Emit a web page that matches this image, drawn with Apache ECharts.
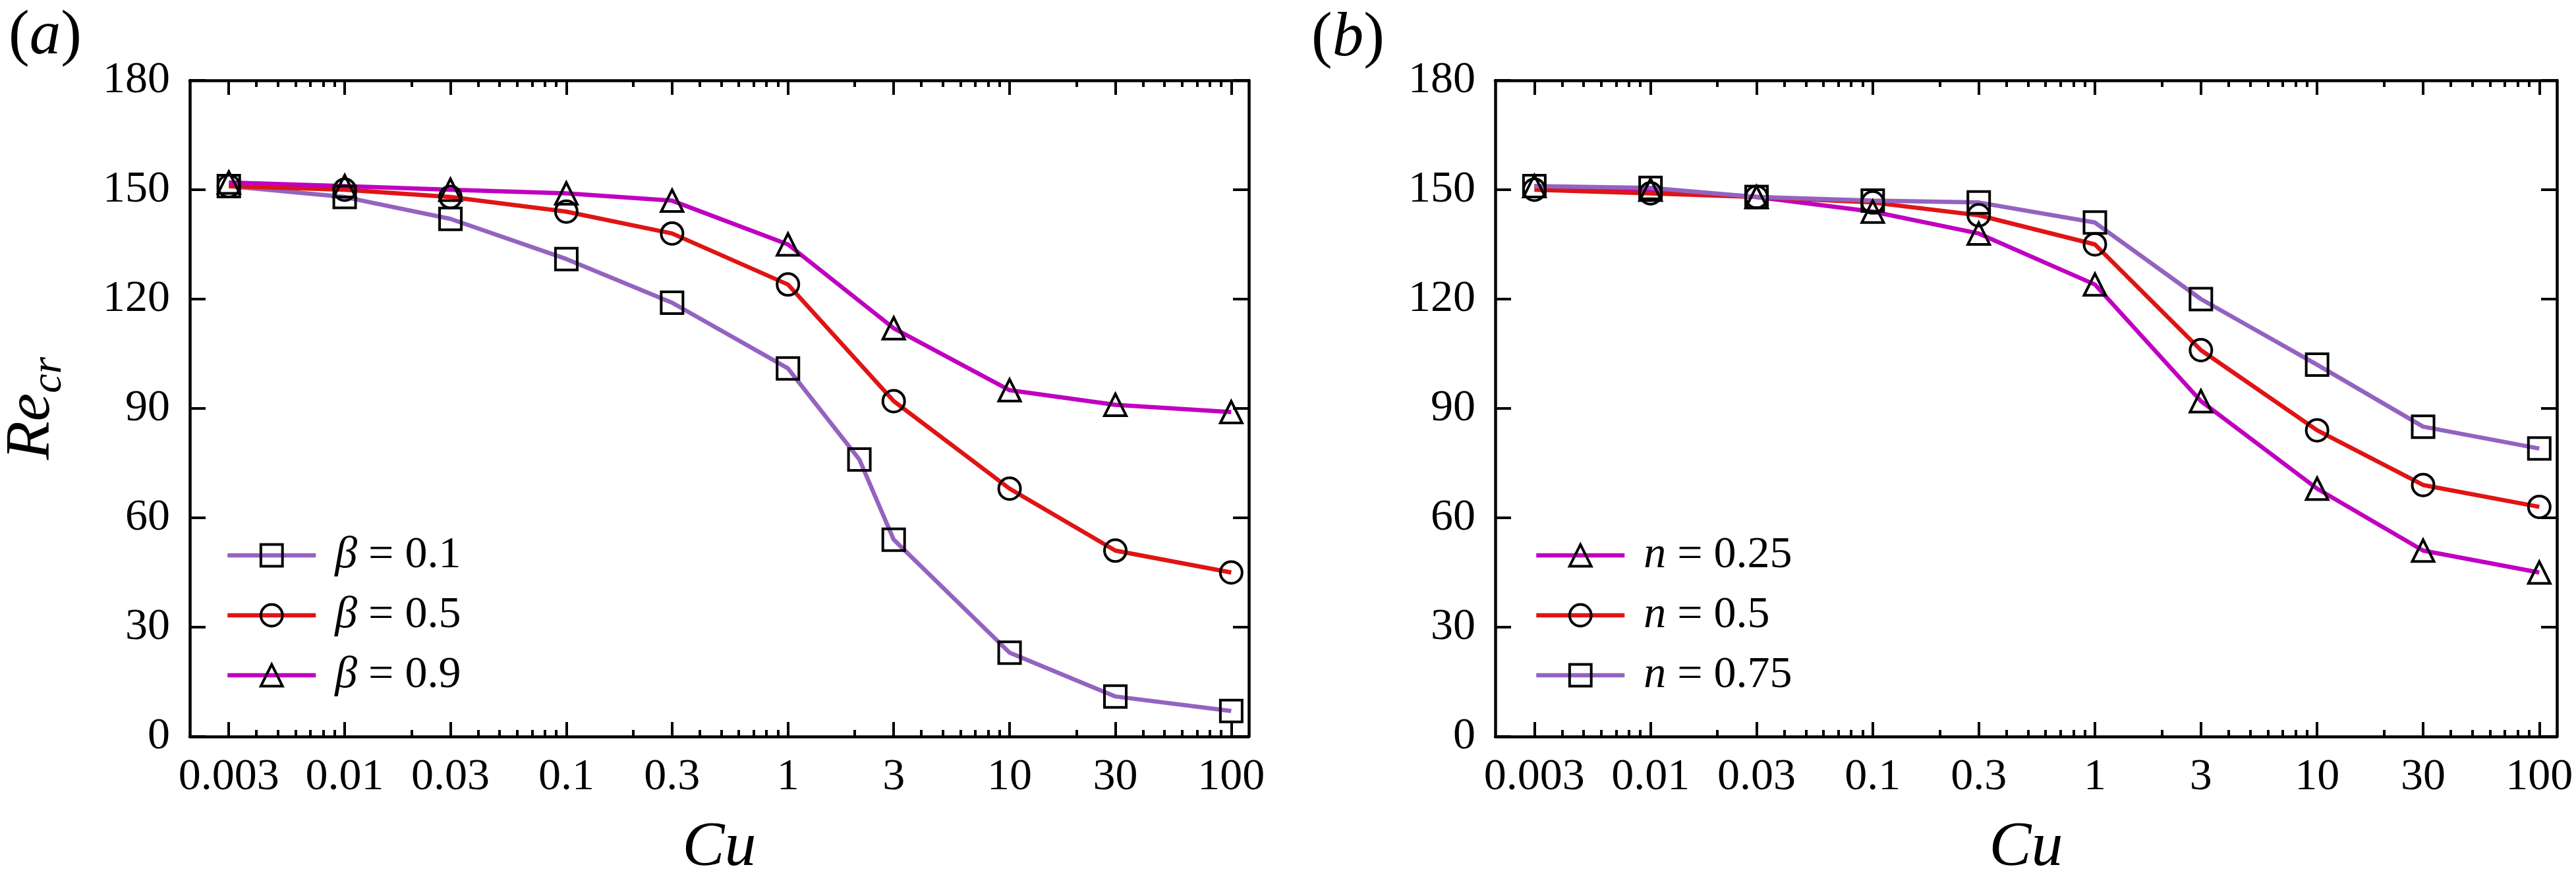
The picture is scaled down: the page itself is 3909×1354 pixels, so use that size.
<!DOCTYPE html>
<html>
<head>
<meta charset="utf-8">
<script src="https://cdn.jsdelivr.net/npm/echarts@6/dist/echarts.min.js"></script>
<style>
  html, body { margin: 0; padding: 0; background: #fff; }
  #main { width: 3909px; height: 1354px; }
</style>
</head>
<body>
<div id="main"></div>
<script>
// Cu 取值
const cu = [0.003, 0.01, 0.03, 0.1, 0.3, 1, 3, 10, 30, 100];
const cuBeta01 = [0.003, 0.01, 0.03, 0.1, 0.3, 1, 2.1, 3, 10, 30, 100];

// (a) 不同 beta
const reBeta01 = [151, 148, 142, 131, 119, 101, 76, 54, 23, 11, 7];
const reBeta05 = [151, 150, 148, 144, 138, 124, 92, 68, 51, 45];
const reBeta09 = [152, 151, 150, 149, 147, 135, 112, 95, 91, 89];

// (b) 不同 n
const reN025 = [151, 150, 148, 144, 138, 124, 92, 68, 51, 45];
const reN05 = [150, 149, 148, 146.5, 143, 135, 106, 84, 69, 63];
const reN075 = [151, 150.5, 148, 147, 146.5, 141, 120, 102, 85, 79];

// 坐标刻度
const majorTicks = [0.003, 0.01, 0.03, 0.1, 0.3, 1, 3, 10, 30, 100];
const minorTicks = [
  0.004, 0.005, 0.006, 0.007, 0.008, 0.009, 0.02,
  0.04, 0.05, 0.06, 0.07, 0.08, 0.09, 0.2,
  0.4, 0.5, 0.6, 0.7, 0.8, 0.9, 2,
  4, 5, 6, 7, 8, 9, 20,
  40, 50, 60, 70, 80, 90
];
const yMin = 0, yMax = 180, yStep = 30;

const FONT = "'Liberation Serif', 'Times New Roman', serif";
const PURPLE = '#9463c0';
const RED = '#e01414';
const MAGENTA = '#c000c0';

const chart = echarts.init(document.getElementById('main'));

function line(name, xs, ys, color, symbol, gi) {
  return {
    name: name,
    type: 'line',
    xAxisIndex: gi * 4,
    yAxisIndex: gi * 2,
    data: xs.map((x, i) => [x, ys[i]]),
    symbol: symbol,
    symbolSize: 33,
    showSymbol: true,
    lineStyle: { color: color, width: 6.5 },
    itemStyle: { color: 'rgba(0,0,0,0)', borderColor: '#000', borderWidth: 4 },
    emphasis: { disabled: true },
    z: 3
  };
}

// 一个面板 4 根 x 轴：下主/下次/上主/上次
function xAxes(gi) {
  const base = {
    type: 'log',
    logBase: 10,
    gridIndex: gi,
    min: 0.002,
    max: 120,
    splitLine: { show: false },
    minorTick: { show: false }
  };
  return [
    Object.assign({}, base, {
      position: 'bottom',
      axisLine: { show: true, lineStyle: { color: '#000', width: 4.5 } },
      axisTick: { show: true, inside: true, length: 22, lineStyle: { color: '#000', width: 4 }, customValues: majorTicks },
      axisLabel: {
        show: true, customValues: majorTicks, margin: 28,
        color: '#000', fontFamily: FONT, fontSize: 68,
        formatter: v => String(v)
      },
      name: 'Cu',
      nameLocation: 'middle',
      nameGap: 122,
      nameTextStyle: { color: '#000', fontFamily: FONT, fontStyle: 'italic', fontSize: 96 }
    }),
    Object.assign({}, base, {
      position: 'bottom',
      axisLine: { show: false },
      axisTick: { show: true, inside: true, length: 10, lineStyle: { color: '#000', width: 4 }, customValues: minorTicks },
      axisLabel: { show: false }
    }),
    Object.assign({}, base, {
      position: 'top',
      axisLine: { show: true, lineStyle: { color: '#000', width: 4.5 } },
      axisTick: { show: true, inside: true, length: 22, lineStyle: { color: '#000', width: 4 }, customValues: majorTicks },
      axisLabel: { show: false }
    }),
    Object.assign({}, base, {
      position: 'top',
      axisLine: { show: false },
      axisTick: { show: true, inside: true, length: 10, lineStyle: { color: '#000', width: 4 }, customValues: minorTicks },
      axisLabel: { show: false }
    })
  ];
}

function yAxes(gi, withName) {
  return [
    {
      type: 'value',
      gridIndex: gi,
      position: 'left',
      min: yMin, max: yMax, interval: yStep,
      splitLine: { show: false },
      axisLine: { show: true, lineStyle: { color: '#000', width: 4.5 } },
      axisTick: { show: true, inside: true, length: 24, lineStyle: { color: '#000', width: 4 } },
      axisLabel: { color: '#000', fontFamily: FONT, fontSize: 68, margin: 30 },
      name: withName ? '{r|Re}{s|cr}' : '',
      nameLocation: 'middle',
      nameGap: 180,
      nameTextStyle: {
        color: '#000', fontFamily: FONT,
        rich: {
          r: { fontFamily: FONT, fontStyle: 'italic', fontSize: 96, lineHeight: 118, color: '#000' },
          s: { fontFamily: FONT, fontStyle: 'italic', fontSize: 66, lineHeight: 66, verticalAlign: 'bottom', color: '#000' }
        }
      }
    },
    {
      type: 'value',
      gridIndex: gi,
      position: 'right',
      min: yMin, max: yMax, interval: yStep,
      splitLine: { show: false },
      axisLine: { show: true, lineStyle: { color: '#000', width: 4.5 } },
      axisTick: { show: true, inside: true, length: 24, lineStyle: { color: '#000', width: 4 } },
      axisLabel: { show: false }
    }
  ];
}

function legend(names, left) {
  return {
    data: names,
    orient: 'vertical',
    left: left,
    top: 804,
    itemWidth: 134,
    itemHeight: 41,
    itemGap: 23,
    selectedMode: false,
    lineStyle: { width: 6.5 },
    itemStyle: { borderWidth: 4 },
    formatter: n => '{g| }' + n.replace(/^(\S+)/, '{i|$1}'),
    textStyle: {
      color: '#000', fontFamily: FONT, fontSize: 68, lineHeight: 41,
      rich: {
        g: { width: 24, lineHeight: 41 },
        i: { fontFamily: FONT, fontStyle: 'italic', fontSize: 68, lineHeight: 41, color: '#000' }
      }
    }
  };
}

const namesA = ['β = 0.1', 'β = 0.5', 'β = 0.9'];
const namesB = ['n = 0.25', 'n = 0.5', 'n = 0.75'];

const option = {
  animation: false,
  backgroundColor: '#fff',
  grid: [
    { left: 283, top: 122, width: 1612, height: 996 },
    { left: 2269, top: 122, width: 1611, height: 996 }
  ],
  xAxis: xAxes(0).concat(xAxes(1)),
  yAxis: yAxes(0, true).concat(yAxes(1, false)),
  legend: [legend(namesA, 337), legend(namesB, 2323)],
  graphic: [
    {
      type: 'text', left: 13, top: 9,
      style: {
        text: '({i|a})', fill: '#000', fontFamily: FONT, fontSize: 95,
        rich: { i: { fontFamily: FONT, fontStyle: 'italic', fontSize: 95, fill: '#000' } }
      }
    },
    {
      type: 'text', left: 1990, top: 12,
      style: {
        text: '({i|b})', fill: '#000', fontFamily: FONT, fontSize: 95,
        rich: { i: { fontFamily: FONT, fontStyle: 'italic', fontSize: 95, fill: '#000' } }
      }
    }
  ],
  series: [
    line(namesA[0], cuBeta01, reBeta01, PURPLE, 'rect', 0),
    line(namesA[1], cu, reBeta05, RED, 'circle', 0),
    line(namesA[2], cu, reBeta09, MAGENTA, 'triangle', 0),
    line(namesB[0], cu, reN025, MAGENTA, 'triangle', 1),
    line(namesB[1], cu, reN05, RED, 'circle', 1),
    line(namesB[2], cu, reN075, PURPLE, 'rect', 1)
  ]
};

chart.setOption(option);
</script>
</body>
</html>
